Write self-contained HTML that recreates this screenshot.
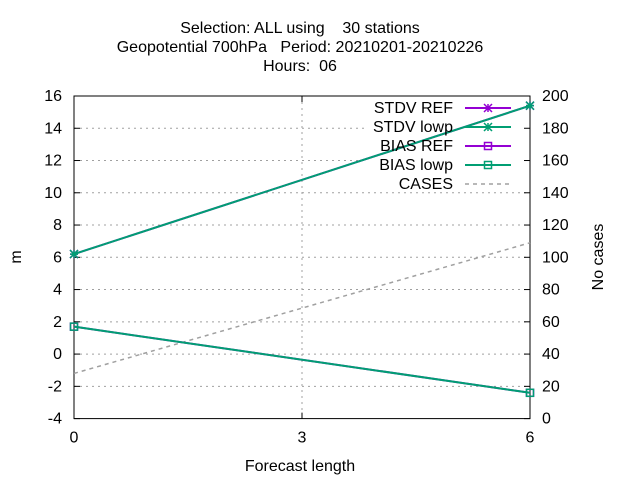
<!DOCTYPE html>
<html><head><meta charset="utf-8"><style>
body{margin:0;background:#fff}
svg{font-family:"Liberation Sans",sans-serif;font-size:16px}
</style></head><body>
<svg id="c" width="640" height="480" xmlns="http://www.w3.org/2000/svg">
<g text-anchor="middle" fill="#000">
<text x="300" y="33" style="white-space:pre">Selection: ALL using    30 stations</text>
<text x="300" y="52" style="white-space:pre">Geopotential 700hPa   Period: 20210201-20210226</text>
<text x="300" y="71" style="white-space:pre">Hours:  06</text>
</g>
<g id="grid"></g>
<g id="axes"></g>
<g id="series"></g>
<g id="legend"></g>
<text x="300" y="471" text-anchor="middle">Forecast length</text>
<text transform="translate(21,257) rotate(-90)" text-anchor="middle">m</text>
<text transform="translate(603,257) rotate(-90)" text-anchor="middle">No cases</text>
</svg>
<script>
const xCats=[0,6];
const xTicks=[0,3,6];
const yTicks=[-4,-2,0,2,4,6,8,10,12,14,16];
const y2Ticks=[0,20,40,60,80,100,120,140,160,180,200];
const stdvRef=[6.2,15.4];
const stdvLowp=[6.2,15.4];
const biasRef=[1.7,-2.4];
const biasLowp=[1.7,-2.4];
const cases=[28,109];

const L=74,R=530,T=96,B=418.6;
const sx=v=>L+(v-0)/6*(R-L);
const sy=v=>B-(v+4)/20*(B-T);
const sy2=v=>B-v/200*(B-T);
const NS="http://www.w3.org/2000/svg";
function mk(p,tag,a){const e=document.createElementNS(NS,tag);for(const k in a)e.setAttribute(k,a[k]);p.appendChild(e);return e;}
const grid=document.getElementById('grid'),axes=document.getElementById('axes'),ser=document.getElementById('series'),leg=document.getElementById('legend');
yTicks.forEach(v=>{const y=sy(v);if(v<=-4||v>=16)return;
 const xe=(y<192)?365:R;
 const g=mk(grid,'line',{x1:L,x2:xe,y1:y,y2:y,stroke:'#a0a0a0','stroke-dasharray':'2,4','stroke-width':1});
 
 });
xTicks.forEach(v=>{if(v==0||v==6)return;const x=sx(v);
 const g=mk(grid,'line',{x1:x,x2:x,y1:T,y2:B,stroke:'#a0a0a0','stroke-dasharray':'2,4','stroke-width':1});
 
 });
const fr=mk(axes,'rect',{x:L,y:T,width:R-L,height:B-T,fill:'none',stroke:'#000','stroke-width':1});


yTicks.forEach(v=>{const y=sy(v);
 mk(axes,'line',{x1:L,x2:L+6,y1:y,y2:y,stroke:'#000'});
 const t=mk(axes,'text',{x:L-12,y:y+5,'text-anchor':'end'});t.textContent=v;
 
 });
y2Ticks.forEach(v=>{const y=sy2(v);
 mk(axes,'line',{x1:R-6,x2:R,y1:y,y2:y,stroke:'#000'});
 const t=mk(axes,'text',{x:R+12,y:y+5,'text-anchor':'start'});t.textContent=v;
 
 });
xTicks.forEach(v=>{const x=sx(v);
 mk(axes,'line',{x1:x,x2:x,y1:B,y2:B-6,stroke:'#000'});
 mk(axes,'line',{x1:x,x2:x,y1:T,y2:T+6,stroke:'#000'});
 const t=mk(axes,'text',{x:x,y:B+24,'text-anchor':'middle'});t.textContent=v;
 
 });
function star(p,x,y,c){mk(p,'path',{d:`M${x-4} ${y-4}L${x+4} ${y+4}M${x-4} ${y+4}L${x+4} ${y-4}M${x-4} ${y}H${x+4}M${x} ${y-4}V${y+4}`,stroke:c,'stroke-width':1.5});}
function box(p,x,y,c){mk(p,'rect',{x:x-3.5,y:y-3.5,width:7,height:7,fill:'none',stroke:c,'stroke-width':1.5});}
function series(name,vals,scale,c,mark,dash){
 const g=mk(ser,'g',{});
 
 
 const pts=vals.map((v,i)=>sx(xCats[i])+','+scale(v)).join(' ');
 const a={points:pts,fill:'none',stroke:c,'stroke-width':dash?1.5:2};if(dash)a['stroke-dasharray']='4,4';
 mk(g,'polyline',a);
 vals.forEach((v,i)=>{if(mark)mark(g,sx(xCats[i]),scale(v),c);});
}
const P='#9400d3',G='#009e73',C='#a0a0a0';
series('series-cases',cases,sy2,C,null,true);
series('series-stdv-ref',stdvRef,sy,P,star);
series('series-bias-ref',biasRef,sy,P,box);
series('series-stdv-lowp',stdvLowp,sy,G,star);
series('series-bias-lowp',biasLowp,sy,G,box);
const items=[['STDV REF',P,star],['STDV lowp',G,star],['BIAS REF',P,box],['BIAS lowp',G,box],['CASES',C,null]];
items.forEach((it,i)=>{const y=108+i*19;
 const g=mk(leg,'g',{});
 
 
 const t=mk(g,'text',{x:453,y:y+5,'text-anchor':'end'});t.textContent=it[0];
 const a={x1:465,x2:511,y1:y,y2:y,stroke:it[1],'stroke-width':it[2]?2:1.5};if(!it[2])a['stroke-dasharray']='4,4';
 mk(g,'line',a);
 if(it[2])it[2](g,488,y,it[1]);
});
</script>
</body></html>
